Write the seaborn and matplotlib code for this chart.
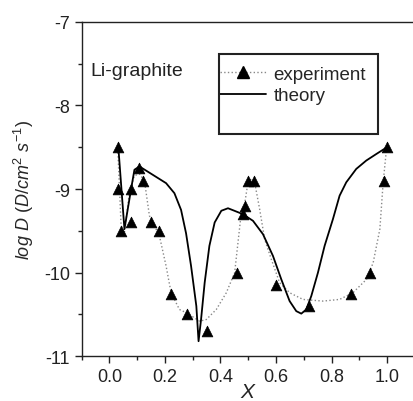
import matplotlib
matplotlib.use('Agg')
import matplotlib.pyplot as plt
from matplotlib.lines import Line2D
from matplotlib.patches import Rectangle
import pandas as pd
import seaborn as sns

sns.set_style('ticks')
plt.rcParams['font.family'] = ['Liberation Sans', 'DejaVu Sans']
plt.rcParams['mathtext.fontset'] = 'custom'
plt.rcParams['mathtext.rm'] = 'Liberation Sans'
plt.rcParams['mathtext.it'] = 'Liberation Sans:italic'

# experiment points (triangles)
exp_x = [0.032, 0.032, 0.04, 0.076, 0.076, 0.108, 0.12, 0.15, 0.18, 0.22, 0.28, 0.35,
         0.46, 0.48, 0.49, 0.50, 0.52, 0.60, 0.72, 0.87, 0.94, 0.99, 1.0]
exp_y = [-8.5, -9.0, -9.5, -9.0, -9.4, -8.75, -8.9, -9.4, -9.5, -10.25, -10.5, -10.7,
         -10.0, -9.3, -9.2, -8.9, -8.9, -10.15, -10.4, -10.25, -10.0, -8.9, -8.5]

# dotted guide curve through the experiment
fit_x = [0.030, 0.042, 0.054, 0.072, 0.09, 0.108, 0.126, 0.144, 0.18, 0.204, 0.222,
         0.252, 0.277, 0.325, 0.349, 0.385, 0.421, 0.451, 0.475, 0.487, 0.499, 0.511,
         0.523, 0.541, 0.559, 0.583, 0.613, 0.649, 0.697, 0.769, 0.829, 0.877, 0.926,
         0.95, 0.974, 0.986, 0.998]
fit_y = [-8.52, -9.44, -9.52, -9.04, -8.84, -8.82, -8.9, -9.32, -9.56, -9.92, -10.24,
         -10.44, -10.48, -10.58, -10.56, -10.44, -10.24, -10.0, -9.28, -9.18, -8.92, -8.88,
         -8.92, -9.24, -9.6, -9.84, -10.12, -10.24, -10.32, -10.34, -10.32, -10.24, -10.08,
         -9.88, -9.48, -8.92, -8.52]

# theory curve
theo_x = [0.032, 0.054, 0.078, 0.09, 0.108, 0.156, 0.204, 0.234, 0.258, 0.276, 0.294,
          0.313, 0.321, 0.33, 0.343, 0.36, 0.379, 0.403, 0.427, 0.45, 0.48, 0.517, 0.553,
          0.589, 0.619, 0.649, 0.673, 0.691, 0.709, 0.727, 0.751, 0.775, 0.805, 0.829,
          0.853, 0.889, 0.925, 0.962, 1.0]
theo_y = [-8.5, -9.48, -9.0, -8.77, -8.73, -8.83, -8.93, -9.05, -9.25, -9.53, -9.92,
          -10.4, -10.82, -10.56, -10.12, -9.68, -9.4, -9.26, -9.23, -9.26, -9.3, -9.38, -9.54,
          -9.8, -10.08, -10.34, -10.46, -10.49, -10.44, -10.28, -10.0, -9.68, -9.36, -9.08,
          -8.92, -8.76, -8.66, -8.58, -8.5]

exp_df = pd.DataFrame({'x': exp_x, 'y': exp_y})
fit_df = pd.DataFrame({'x': fit_x, 'y': fit_y})
theo_df = pd.DataFrame({'x': theo_x, 'y': theo_y})

fig = plt.figure(figsize=(4.14, 4.02), dpi=100)
ax = fig.add_axes([0.1973, 0.1112, 0.8047, 0.8323])

sns.lineplot(data=fit_df, x='x', y='y', sort=False, ax=ax, color='#888888',
             linestyle=':', linewidth=1.0)
sns.lineplot(data=theo_df, x='x', y='y', sort=False, ax=ax, color='black',
             linewidth=1.3)
sns.scatterplot(data=exp_df, x='x', y='y', ax=ax, marker='^', color='black',
                s=60, edgecolor='black', linewidth=0.5, zorder=5)

ax.set_xlim(-0.1, 1.1)
ax.set_ylim(-11, -7)
ax.set_xticks([0.0, 0.2, 0.4, 0.6, 0.8, 1.0])
ax.set_xticks([-0.1, 0.1, 0.3, 0.5, 0.7, 0.9], minor=True)
ax.set_yticks([-11, -10, -9, -8, -7])
ax.set_yticks([-10.5, -9.5, -8.5, -7.5], minor=True)
ax.set_xticklabels(['0.0', '0.2', '0.4', '0.6', '0.8', '1.0'])
ax.set_yticklabels(['-11', '-10', '-9', '-8', '-7'])
ax.tick_params(axis='both', which='major', direction='out', length=5, width=1,
               labelsize=13, color='#222222', labelcolor='#222222')
ax.tick_params(axis='both', which='minor', direction='out', length=3, width=1,
               color='#222222')
for side in ['left', 'bottom', 'top']:
    ax.spines[side].set_visible(True)
    ax.spines[side].set_linewidth(1.0)
    ax.spines[side].set_color('#222222')
ax.spines['right'].set_visible(False)

ax.set_xlabel('$\\mathit{X}$', fontsize=15, labelpad=-2)
ax.set_ylabel('$\\mathit{log\\ D\\ (D/cm^{2}\\ s^{-1})}$', fontsize=13, labelpad=6)

ax.text(0.027, 0.854, 'Li-graphite', transform=ax.transAxes, fontsize=14,
        ha='left', va='center', color='#222222')

handles = [Line2D([], [], color='#888888', linestyle=':', linewidth=1.0, marker='^',
                  markerfacecolor='black', markeredgecolor='black', markersize=8),
           Line2D([], [], color='black', linewidth=1.3)]
ax.legend(handles, ['experiment', 'theory'], loc='upper left',
          bbox_to_anchor=(0.415, 0.869), frameon=False, fontsize=13.5,
          handlelength=2.45, handletextpad=0.4, labelspacing=0.25,
          borderpad=0, borderaxespad=0)
ax.add_patch(Rectangle((0.412, 0.664), 0.477, 0.239, transform=ax.transAxes,
                       fill=False, edgecolor='#222222', linewidth=1.5, zorder=6))

fig.savefig('out.png', dpi=100)
